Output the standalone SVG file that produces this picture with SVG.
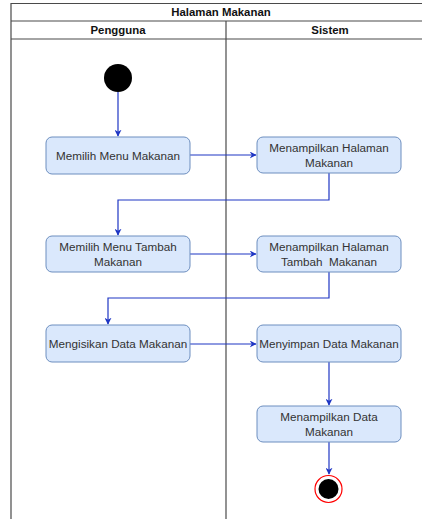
<svg xmlns="http://www.w3.org/2000/svg" width="422" height="519" viewBox="0 0 422 519">
  <style>
    .lane { fill: none; stroke: #4a4a4a; stroke-width: 1.2; }
    .hdr { font-family: "Liberation Sans", Arial, sans-serif; font-size: 11.4px; font-weight: bold; fill: #111; text-anchor: middle; }
    .act rect { fill: #dae8fc; stroke: #6c8ebf; stroke-width: 1; }
    .act text { font-family: "Liberation Sans", Arial, sans-serif; font-size: 11.7px; fill: #333; text-anchor: middle; }
    .flow { fill: none; stroke: #1f36c4; stroke-width: 1.2; }
  </style>
  <defs>
    <marker id="arrow" viewBox="0 0 10 10" refX="9" refY="5" markerWidth="7" markerHeight="7" orient="auto" markerUnits="userSpaceOnUse">
      <path d="M0,0 L10,5 L0,10 L3,5 Z" fill="#1f36c4"/>
    </marker>
  </defs>

  <rect width="422" height="519" fill="#ffffff"/>

  <!-- swimlane frame -->
  <g id="pool">
    <path class="lane" d="M11,519 V3.5 H434"/>
    <line class="lane" x1="11" y1="21" x2="434" y2="21"/>
    <line class="lane" x1="11" y1="39" x2="434" y2="39"/>
    <line class="lane" x1="226" y1="21" x2="226" y2="519"/>
    <text class="hdr" x="221" y="16">Halaman Makanan</text>
    <text class="hdr" x="118" y="34">Pengguna</text>
    <text class="hdr" x="330" y="34">Sistem</text>
  </g>

  <!-- connectors -->
  <g id="connectors">
    <path class="flow" d="M118,92 V136" marker-end="url(#arrow)"/>
    <path class="flow" d="M190,155 H256" marker-end="url(#arrow)"/>
    <path class="flow" d="M329,173 V200 H118 V235" marker-end="url(#arrow)"/>
    <path class="flow" d="M190,254 H256" marker-end="url(#arrow)"/>
    <path class="flow" d="M329,272 V298 H108 V324" marker-end="url(#arrow)"/>
    <path class="flow" d="M190,344 H256" marker-end="url(#arrow)"/>
    <path class="flow" d="M329,362 V405" marker-end="url(#arrow)"/>
    <path class="flow" d="M329,442 V474" marker-end="url(#arrow)"/>
  </g>

  <!-- nodes -->
  <g id="start">
    <circle cx="118" cy="78" r="14" fill="#000"/>
  </g>

  <g id="memilih-menu-makanan" class="act">
    <rect x="46" y="137" width="144" height="37" rx="6"/>
    <text x="118" y="159.5">Memilih Menu Makanan</text>
  </g>

  <g id="menampilkan-halaman-makanan" class="act">
    <rect x="257" y="137" width="144" height="36" rx="6"/>
    <text x="329" y="152">Menampilkan Halaman</text>
    <text x="329" y="166.5">Makanan</text>
  </g>

  <g id="memilih-menu-tambah-makanan" class="act">
    <rect x="46" y="236" width="144" height="36" rx="6"/>
    <text x="118" y="251">Memilih Menu Tambah</text>
    <text x="118" y="265.5">Makanan</text>
  </g>

  <g id="menampilkan-halaman-tambah-makanan" class="act">
    <rect x="257" y="236" width="144" height="36" rx="6"/>
    <text x="329" y="251">Menampilkan Halaman</text>
    <text x="329" y="265.5" xml:space="preserve">Tambah  Makanan</text>
  </g>

  <g id="mengisikan-data-makanan" class="act">
    <rect x="46" y="325" width="144" height="37" rx="6"/>
    <text x="118" y="348">Mengisikan Data Makanan</text>
  </g>

  <g id="menyimpan-data-makanan" class="act">
    <rect x="257" y="325" width="144" height="37" rx="6"/>
    <text x="329" y="348">Menyimpan Data Makanan</text>
  </g>

  <g id="menampilkan-data-makanan" class="act">
    <rect x="257" y="406" width="144" height="36" rx="6"/>
    <text x="329" y="421">Menampilkan Data</text>
    <text x="329" y="435.5">Makanan</text>
  </g>

  <g id="end">
    <circle cx="328.5" cy="489" r="13.5" fill="#fff" stroke="#ff0000" stroke-width="1.2"/>
    <circle cx="328.5" cy="489" r="10" fill="#000"/>
  </g>
</svg>
